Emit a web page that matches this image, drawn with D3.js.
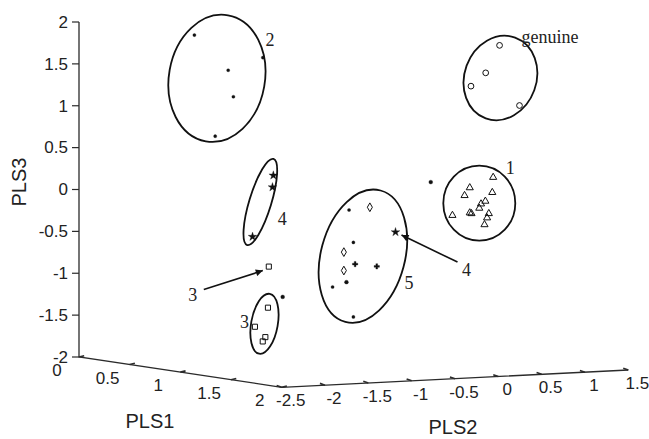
<!DOCTYPE html>
<html>
<head>
<meta charset="utf-8">
<script src="https://cdn.jsdelivr.net/npm/d3@7"></script>
<style>
  body { margin: 0; background: #fff; }
  svg { display: block; }
  .tick-label { font-family: "Liberation Sans", Arial, sans-serif; font-size: 17px; fill: #222; }
  .axis-title { font-family: "Liberation Sans", Arial, sans-serif; font-size: 20px; fill: #222; }
  .note { font-family: "Liberation Serif", "Times New Roman", serif; font-size: 18px; fill: #222; }
</style>
</head>
<body>
<svg id="chart" width="649" height="439"></svg>
<script>
// tick values of the three axes
var pls1Ticks = [0, 0.5, 1, 1.5, 2];
var pls2Ticks = [-2.5, -2, -1.5, -1, -0.5, 0, 0.5, 1, 1.5];
var pls3Ticks = [-2, -1.5, -1, -0.5, 0, 0.5, 1, 1.5, 2];

// scores per sample group: PLS1, PLS2, PLS3 and marker type
var genuine = [
  [1.2, 0.95, 1.76, "circle"], [1.2, 0.79, 1.44, "circle"],
  [1.2, 0.62, 1.29, "circle"], [1.2, 1.18, 1.03, "circle"]
];
var group1 = [
  [1.0, 1.11, 0.14], [1.0, 0.84, 0.03], [1.0, 1.10, -0.04], [1.0, 0.78, -0.06],
  [1.0, 1.02, -0.14], [1.0, 0.97, -0.17], [1.0, 0.95, -0.22], [1.0, 0.64, -0.29],
  [1.0, 0.84, -0.27], [1.0, 0.86, -0.28], [1.0, 1.06, -0.29], [1.0, 1.04, -0.34],
  [1.0, 1.01, -0.42]
].map(function (d) { return d.concat("triangle"); });
var group2 = [
  [0.6, -1.87, 1.92], [0.6, -1.08, 1.61], [0.6, -1.48, 1.48],
  [0.6, -1.42, 1.16], [0.6, -1.63, 0.70]
].map(function (d) { return d.concat("dot"); });
var group3 = [
  [1.3, -1.83, -0.72], [1.3, -1.84, -1.21], [1.3, -1.99, -1.43],
  [1.3, -1.87, -1.56], [1.3, -1.90, -1.61]
].map(function (d) { return d.concat("square"); });
var group4 = [
  [0.9, -1.31, 0.27], [0.9, -1.32, 0.13], [0.9, -1.55, -0.45], [0.9, 0.10, -0.48]
].map(function (d) { return d.concat("star"); });
var group5 = [
  [1.1, -0.67, -0.14, "dot"], [1.1, -0.43, -0.12, "diamond"], [1.1, -0.62, -0.53, "dot"],
  [1.1, -0.73, -0.64, "diamond"], [1.1, -0.60, -0.79, "plus"], [1.1, -0.35, -0.83, "plus"],
  [1.1, -0.73, -0.86, "diamond"], [1.1, -0.70, -1.00, "hexagram"], [1.1, -0.86, -1.05, "dot"],
  [1.1, -0.62, -1.42, "dot"]
];
var others = [
  [1.0, 0.39, 0.12, "hexagram"], [1.3, -1.67, -1.09, "hexagram"]
];

// ellipse drawn round each group: centre (PLS1, PLS2, PLS3), radii px, tilt deg, label
var ellipses = [
  { name: "2", c: [0.6, -1.61, 1.39], rx: 48, ry: 64, rot: 10, lab: [53, -32], anchor: "middle" },
  { name: "genuine", c: [1.2, 0.96, 1.37], rx: 36, ry: 43, rot: 20, lab: [21, -35], anchor: "start" },
  { name: "1", c: [1.0, 0.95, -0.16], rx: 36, ry: 37.5, rot: 0, lab: [31, -29], anchor: "middle" },
  { name: "4", c: [0.9, -1.46, -0.04], rx: 11, ry: 45, rot: 17, lab: [22, 23], anchor: "middle" },
  { name: "5", c: [1.1, -0.51, -0.70], rx: 42, ry: 68, rot: 15, lab: [46, 33], anchor: "middle" },
  { name: "3", c: [1.3, -1.88, -1.40], rx: 13.3, ry: 30.4, rot: 10, lab: [-20, 4], anchor: "middle" }
];

// arrows pointing at outliers: target sample, tip and tail offsets px, label offset
var arrows = [
  { name: "3", at: group3[0], tip: [-6, 4], tail: [-65, 23], lab: [-76, 34] },
  { name: "4", at: group4[3], tip: [6, 3], tail: [62, 30], lab: [71, 44] }
];

var svg = d3.select("#chart");

// oblique projection of the 3-D box onto the page
var x1 = d3.scaleLinear().domain([0, 2]).range([0, 202.7]);
var y1 = d3.scaleLinear().domain([0, 2]).range([0, 30.3]);
var x2 = d3.scaleLinear().domain([-2.5, 1.5]).range([0, 346.6]);
var y2 = d3.scaleLinear().domain([-2.5, 1.5]).range([0, -17.3]);
var y3 = d3.scaleLinear().domain([-2, 2]).range([0, -335]);
var origin = [79, 357];

function project(a, b, c) {
  return [origin[0] + x1(a) + x2(b), origin[1] + y1(a) + y2(b) + y3(c)];
}

var axisColor = "#2b2b2b";
var line = d3.line();

// axes
var p0 = project(0, -2.5, -2), pc = project(2, -2.5, -2), pe = project(2, 1.5, -2), pt = project(0, -2.5, 2);
svg.append("path").attr("d", line([pt, p0, pc, pe]))
  .attr("fill", "none").attr("stroke", axisColor).attr("stroke-width", 1.3);

// PLS3 ticks
pls3Ticks.forEach(function (v) {
  var p = project(0, -2.5, v);
  svg.append("line").attr("x1", p[0]).attr("y1", p[1]).attr("x2", p[0] - 7).attr("y2", p[1])
    .attr("stroke", axisColor).attr("stroke-width", 1.2);
  svg.append("text").attr("class", "tick-label").attr("x", p[0] - 11).attr("y", p[1])
    .attr("dy", "0.34em").attr("text-anchor", "end").text(v);
});

// PLS1 ticks
pls1Ticks.forEach(function (v) {
  var p = project(v, -2.5, -2), q = project(v, -2.44, -2);
  svg.append("line").attr("x1", p[0]).attr("y1", p[1]).attr("x2", q[0]).attr("y2", q[1] - 1)
    .attr("stroke", axisColor).attr("stroke-width", 1.6);
  svg.append("text").attr("class", "tick-label").attr("x", p[0] - 22).attr("y", p[1] + 19)
    .attr("text-anchor", "middle").text(v);
});

// PLS2 ticks
pls2Ticks.forEach(function (v) {
  var p = project(2, v, -2), q = project(1.95, v, -2);
  svg.append("line").attr("x1", p[0]).attr("y1", p[1]).attr("x2", q[0]).attr("y2", q[1] - 1)
    .attr("stroke", axisColor).attr("stroke-width", 1.6);
  svg.append("text").attr("class", "tick-label").attr("x", p[0] + 9).attr("y", p[1] + 19)
    .attr("text-anchor", "middle").text(v);
});

// axis titles
svg.append("text").attr("class", "axis-title").attr("x", 150).attr("y", 428)
  .attr("text-anchor", "middle").text("PLS1");
svg.append("text").attr("class", "axis-title").attr("x", 453).attr("y", 434)
  .attr("text-anchor", "middle").text("PLS2");
svg.append("text").attr("class", "axis-title")
  .attr("transform", "translate(26,182) rotate(-90)")
  .attr("text-anchor", "middle").text("PLS3");

// ellipses and their labels
ellipses.forEach(function (e) {
  var c = project(e.c[0], e.c[1], e.c[2]);
  svg.append("ellipse").attr("cx", 0).attr("cy", 0).attr("rx", e.rx).attr("ry", e.ry)
    .attr("transform", "translate(" + c[0] + "," + c[1] + ") rotate(" + e.rot + ")")
    .attr("fill", "none").attr("stroke", "#111").attr("stroke-width", 1.8);
  svg.append("text").attr("class", "note").attr("x", c[0] + e.lab[0]).attr("y", c[1] + e.lab[1])
    .attr("text-anchor", e.anchor).text(e.name);
});

// arrows
svg.append("defs").append("marker").attr("id", "head")
  .attr("viewBox", "0 0 10 10").attr("refX", 10).attr("refY", 5)
  .attr("markerWidth", 9).attr("markerHeight", 7).attr("markerUnits", "userSpaceOnUse")
  .attr("orient", "auto")
  .append("path").attr("d", "M0,0L10,5L0,10z").attr("fill", "#111");

arrows.forEach(function (a) {
  var t = project(a.at[0], a.at[1], a.at[2]);
  svg.append("line")
    .attr("x1", t[0] + a.tail[0]).attr("y1", t[1] + a.tail[1])
    .attr("x2", t[0] + a.tip[0]).attr("y2", t[1] + a.tip[1])
    .attr("stroke", "#111").attr("stroke-width", 1.6).attr("marker-end", "url(#head)");
  svg.append("text").attr("class", "note").attr("x", t[0] + a.lab[0]).attr("y", t[1] + a.lab[1])
    .attr("text-anchor", "middle").text(a.name);
});

// sample markers
var symbols = {
  circle: { type: d3.symbolCircle, size: 26, fill: "none" },
  triangle: { type: d3.symbolTriangle, size: 22, fill: "none" },
  square: { type: d3.symbolSquare, size: 26, fill: "none" },
  diamond: { type: d3.symbolDiamond, size: 22, fill: "none" },
  star: { type: d3.symbolStar, size: 24, fill: "#111" },
  plus: { type: d3.symbolCross, size: 16, fill: "#111" },
  hexagram: { type: d3.symbolCircle, size: 12, fill: "#111" },
  dot: { type: d3.symbolCircle, size: 8, fill: "#111" }
};

var samples = [].concat(genuine, group1, group2, group3, group4, group5, others);

svg.append("g").selectAll("path")
  .data(samples)
  .join("path")
  .attr("transform", function (d) {
    var p = project(d[0], d[1], d[2]);
    return "translate(" + p[0] + "," + p[1] + ")";
  })
  .attr("d", function (d) { return d3.symbol(symbols[d[3]].type, symbols[d[3]].size)(); })
  .attr("fill", function (d) { return symbols[d[3]].fill; })
  .attr("stroke", "#111")
  .attr("stroke-width", function (d) { return symbols[d[3]].fill === "none" ? 1 : 0.3; });
</script>
</body>
</html>
